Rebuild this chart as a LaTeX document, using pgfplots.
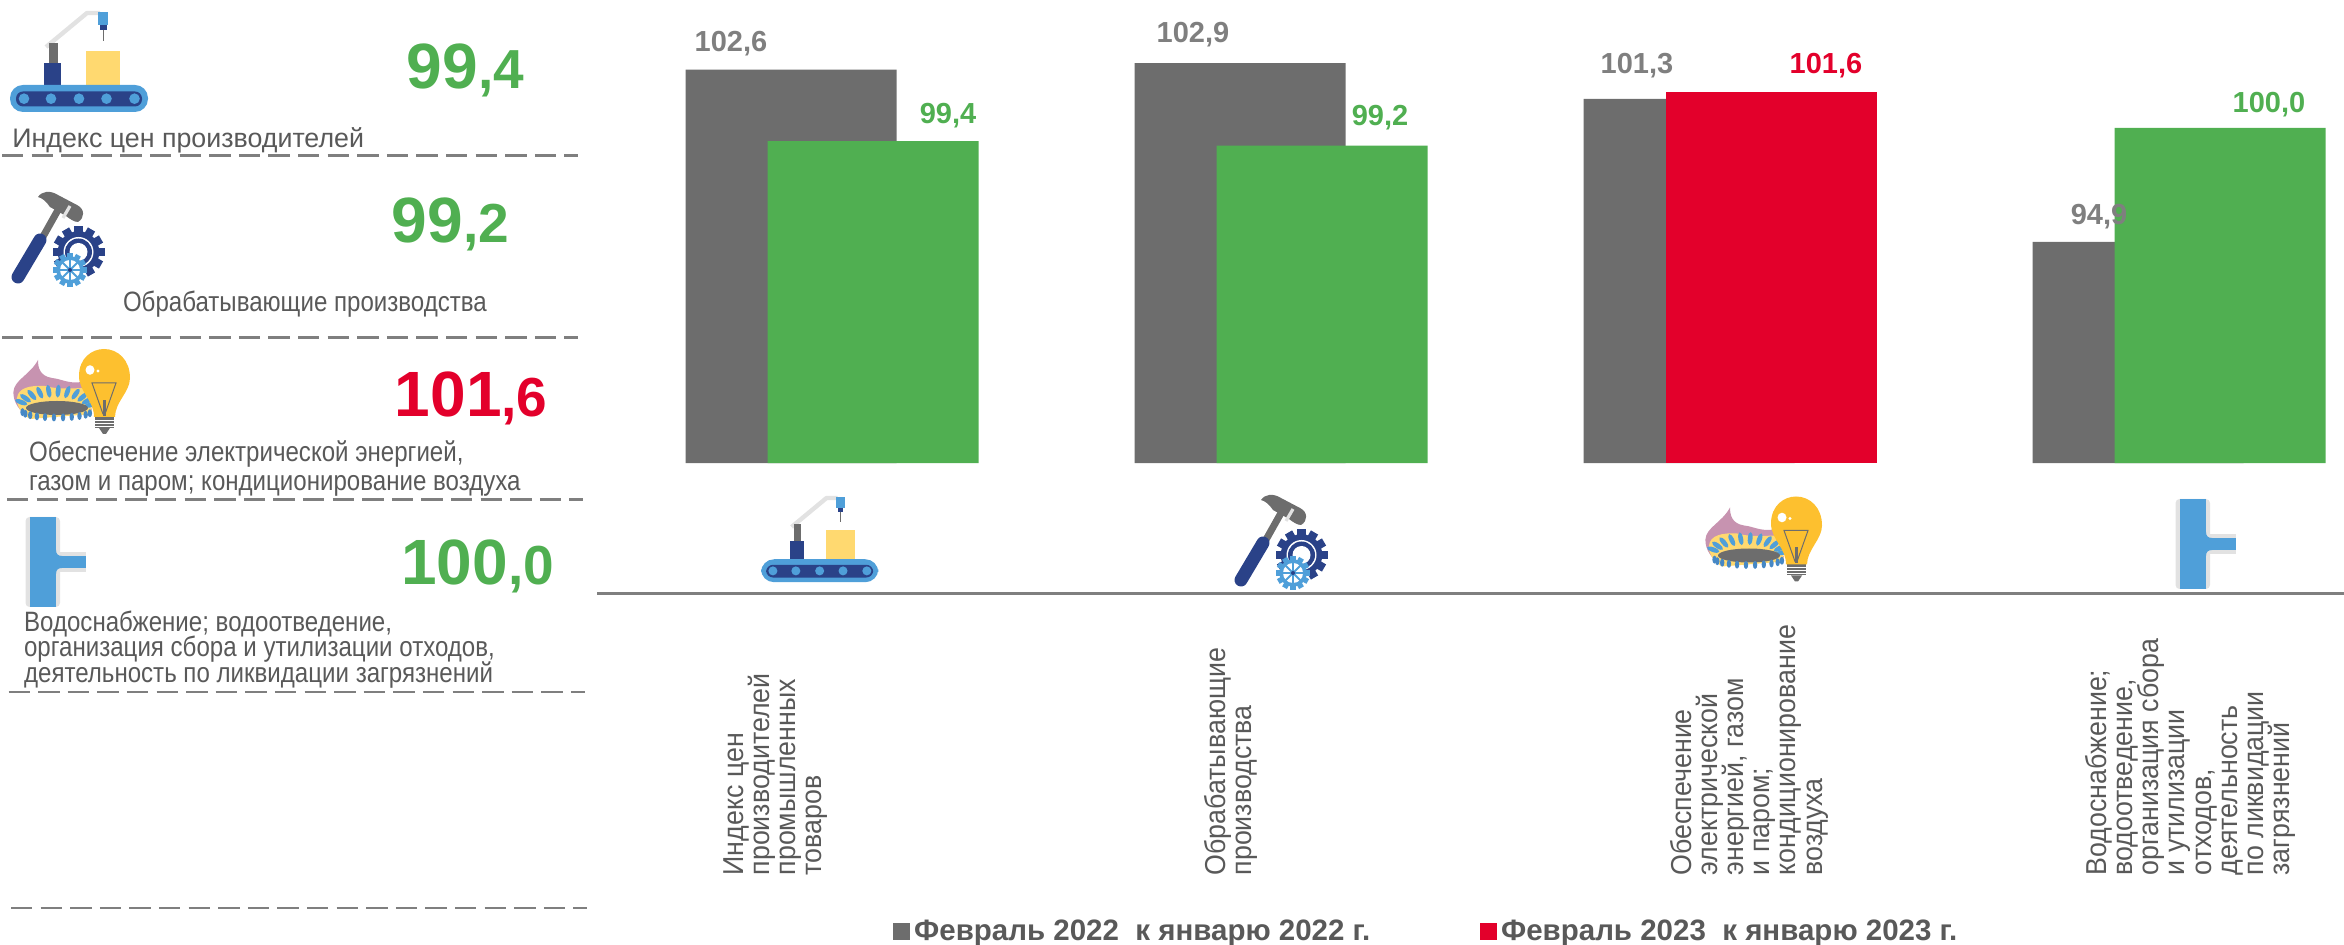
\documentclass[border=0pt]{standalone}
\usepackage{fontspec}
\usepackage{pgfplots}
\usepackage{pgfplotstable}
\pgfplotsset{compat=1.18}
\setmainfont{Liberation Sans}
\newfontfamily\rotfont{Liberation Sans}[FakeStretch=.93]
\newfontfamily\sidefont{Liberation Sans}[FakeStretch=.86]
% keep the tight line pitch of the rotated labels even
\normallineskiplimit=-5pt

\definecolor{cgray}{HTML}{6D6D6D}
\definecolor{cgreen}{HTML}{50AF51}
\definecolor{cred}{HTML}{E3002B}
\definecolor{clabel}{HTML}{7F7F7F}
\definecolor{ctext}{HTML}{595959}
\definecolor{cblue}{HTML}{4F9FD9}
\definecolor{cnavy}{HTML}{2A4288}
\definecolor{cyellow}{HTML}{FFD970}
\definecolor{cbulb}{HTML}{FDC02F}
\definecolor{cpink}{HTML}{C793B0}
\definecolor{clight}{HTML}{E2E2E2}

% x y label, shift of the label from the category centre and bar top (pt)
\pgfplotstableread{
x y label lx ly
0 102.6 102,6 -50.5 13
1 102.9 102,9 -44 14
2 101.3 101,3 -46.5 16.5
3 94.9 94,9 -40 12.5
}\tgray
\pgfplotstableread{
x y label lx ly
0 99.4 99,4 58 13
1 99.2 99,2 49.5 14
3 100.0 100,0 45 11.5
}\tgreen
\pgfplotstableread{
x y label lx ly
2 101.6 101,6 48 13
}\tred

% icons, drawn in pixel coordinates of the left column
\newcommand{\iconbelt}{
  \draw[clight,line width=2.2pt,line join=round] (46,47) -- (87,13) -- (100,13);
  \fill[cgray] (48.7,43) rectangle (57.5,64);
  \fill[cnavy] (44,63) rectangle (61,86);
  \fill[cyellow] (86,51) rectangle (120,86);
  \fill[cblue] (97.7,12) rectangle (108.4,25);
  \fill[cnavy] (100,25) rectangle (106.5,30);
  \draw[cgray,line width=.4pt] (103.3,30) -- (103.3,41);
  \fill[cblue,rounded corners=6.5pt] (10,85) rectangle (148,112);
  \fill[cnavy,rounded corners=3.5pt] (16,91.5) rectangle (142,106.5);
  \foreach \cx in {24,51,79,106.5,134.5} \fill[cblue] (\cx,98.7) circle [radius=5.3];
}
\newcommand{\gear}[4]{% cx cy radius colour
  \foreach \a in {0,30,...,330}
    \fill[#4,shift={(#1,#2)},rotate=\a] (-.16*#3,0) rectangle (.16*#3,#3);
  \fill[#4] (#1,#2) circle [radius=.8*#3];
}
\newcommand{\iconhammer}{
  \draw[cgray,line width=3.5pt] (40,242) -- (58,210);
  \draw[cnavy,line width=6.5pt,line cap=round] (18,277) -- (40,240);
  \fill[cgray] (38,197) .. controls (42,191) and (50,190) .. (58,195)
    -- (77,205) .. controls (85,209) and (85,218) .. (78,222)
    .. controls (74,222) and (70,219) .. (66,216) -- (50,207)
    .. controls (46,201) and (42,198) .. (38,197) -- cycle;
  \draw[clight,line width=1.6pt] (63,218) -- (70,206);
  \gear{78.5}{252}{26}{cnavy}
  \fill[white] (78.5,252) circle [radius=15];
  \fill[cnavy] (78.5,252) circle [radius=13.5];
  \fill[white] (78.5,252) circle [radius=9];
  \gear{70}{270}{17}{cblue}
  \fill[white] (70,270) circle [radius=10];
  \foreach \a in {0,45,135,90} \draw[cblue,line width=.9pt,shift={(70,270)},rotate=\a] (-11,0) -- (11,0);
  \fill[cnavy] (70,270) circle [radius=2];
}
\newcommand{\icongas}{
  \fill[cpink] (13.4,392) .. controls (14,380) and (30,375) .. (38,360)
    .. controls (38,368) and (40,376) .. (52,378)
    .. controls (62,379) and (68,384) .. (82,382)
    -- (92,410) -- (28,416) .. controls (20,412) and (13,402) .. (13.4,392) -- cycle;
  \fill[cyellow] (17,398) .. controls (18,388) and (30,385) .. (45,386)
    .. controls (60,390) and (72,388) .. (88,388) -- (92,414)
    -- (30,419) .. controls (22,414) and (16,406) .. (17,398) -- cycle;
  \foreach \a in {10,25,...,170}
    \fill[cblue,shift={({55+36*cos(\a)},{408-17*sin(\a)})},rotate={\a-90}]
      (0,0) ellipse [x radius=2.4, y radius=6.5];
  \fill[cgray] (57,408) ellipse [x radius=31, y radius=7];
  \foreach \a in {190,205,...,350}
    \fill[cblue!75!cnavy] ({57+35*cos(\a)},{411-6.5*sin(\a)}) ellipse [x radius=2.2, y radius=4];
  \fill[cgray] (95,417) rectangle (114,428);
  \fill[cgray] (99,428) -- (110,428) -- (106,434) -- (103,434) -- cycle;
  \foreach \yy in {420,423,426} \draw[white,line width=.4pt] (95,\yy) -- (114,\yy);
  \fill[cbulb] (94,417) .. controls (94,400) and (79,392) .. (79,376)
    .. controls (79,358) and (92,349) .. (104,349)
    .. controls (118,349) and (130,360) .. (130,378)
    .. controls (130,392) and (115,402) .. (115,417) -- cycle;
  \fill[white] (90,370) ellipse [x radius=4.5, y radius=4.8];
  \fill[white] (98,371) circle [radius=1.6];
  \draw[cgray,line width=.5pt] (92,383) -- (116,383) -- (105,414) -- (103,414) -- cycle;
  \fill[cgray] (102.5,400) rectangle (105.5,416);
}
\newcommand{\iconpipe}{
  \fill[clight,rounded corners=2pt] (25.5,517) rectangle (60,607);
  \fill[clight] (55,552) rectangle (86,572);
  \fill[cblue] (30,517) rectangle (56,607);
  \fill[cblue] (50,556) rectangle (86,568);
  \fill[cblue] (56,550) .. controls (56,554) and (58,556) .. (62,556) -- (56,556) -- cycle;
  \fill[cblue] (56,574) .. controls (56,570) and (58,568) .. (62,568) -- (56,568) -- cycle;
}

\begin{document}
\lineskiplimit=-5pt
\begin{tikzpicture}
\path[use as bounding box] (0,0) rectangle (1172pt,-472.5pt);

\begin{axis}[
    at={(298.5pt,-231.5pt)}, anchor=south west,
    scale only axis, width=873.5pt, height=231.5pt,
    xmin=-0.5234, xmax=3.3675,
    ymin=85, ymax=105.72,
    axis line style={draw=none},
    major tick length=0pt,
    ytick=\empty,
    xtick={-0.1258,0.8876,2.0423,3.0255},
    xticklabels={
      {Индекс цен\\производителей\\промышленных\\товаров},
      {Обрабатывающие\\производства},
      {Обеспечение\\электрической\\энергией, газом\\и паром;\\кондиционирование\\воздуха},
      {Водоснабжение;\\водоотведение,\\организация сбора\\и утилизации\\отходов,\\деятельность\\по ликвидации\\загрязнений}},
    xticklabel style={yshift=-206.35pt, rotate=90, anchor=west, align=left, inner sep=0pt,
      text=ctext, font=\rotfont\fontsize{14.4}{13.1}\selectfont},
    legend columns=2,
    legend style={at={(0.1694,-1.0115)}, anchor=west, draw=none, fill=none,
      inner sep=0pt, font=\bfseries\fontsize{14.75}{16}\selectfont, text=ctext,
      /tikz/every even column/.append style={column sep=53pt}},
    legend image code/.code={\path[#1] (0pt,-4.1pt) rectangle (8.4pt,4.1pt);},
    label bars/.style={
      point meta=explicit symbolic,
      visualization depends on={\thisrow{lx}\as\lx},
      visualization depends on={\thisrow{ly}\as\ly},
      nodes near coords,
      nodes near coords align={center},
      every node near coord/.append style={xshift=\lx pt, yshift=\ly pt, inner sep=0pt,
        font=\bfseries\fontsize{14.5}{16}\selectfont, text=#1},
    },
]
\addplot[ybar, bar width=105.5pt, bar shift=-20.5pt, fill=cgray, draw=none, label bars=clabel]
    table[x=x, y=y, meta=label] {\tgray};
\addlegendentry{Февраль 2022\ \ к январю 2022 г.}
\addplot[ybar, bar width=105.5pt, bar shift=20.5pt, fill=cgreen, draw=none, label bars=cgreen, forget plot]
    table[x=x, y=y, meta=label] {\tgreen};
\addplot[ybar, bar width=105.5pt, bar shift=20.5pt, fill=cred, draw=none, label bars=cred]
    table[x=x, y=y, meta=label] {\tred};
\addlegendentry{Февраль 2023\ \ к январю 2023 г.}
\end{axis}

\begin{scope}[x=.5pt, y=-.5pt]
  % baseline under the chart icons
  \draw[clabel,line width=1.3pt] (597,593.5) -- (2344,593.5);

  % dashed separators of the left column
  \begin{scope}[clabel, line width=1.2pt, dash pattern=on 10.7pt off 4.1pt]
    \draw (2,155.7) -- (578,155.7);
    \draw (2,337.7) -- (578,337.7);
    \draw (7,499.5) -- (583,499.5);
    \draw (8.5,692) -- (585,692);
    \draw (11,907.7) -- (587,907.7);
  \end{scope}

  % left column icons
  \iconbelt
  \iconhammer
  \icongas
  \iconpipe

  % the same icons over the baseline
  \begin{scope}[shift={(752.5,487)}, scale=.85]\iconbelt\end{scope}
  \begin{scope}[shift={(1223,303)}]\iconhammer\end{scope}
  \begin{scope}[shift={(1692,147.5)}]\icongas\end{scope}
  \begin{scope}[shift={(2150,-18)}]\iconpipe\end{scope}

  % big values
  \newcommand{\bigval}[5]{\node[anchor=base west,inner sep=0pt,text=#3,font=\bfseries] at (#1,#2)
    {\fontsize{32}{36}\selectfont #4\fontsize{27.5}{30}\selectfont #5};}
  \bigval{406.5}{89}{cgreen}{99}{,4}
  \bigval{391.5}{243}{cgreen}{99}{,2}
  \bigval{394.5}{417}{cred}{101}{,6}
  \bigval{401}{585}{cgreen}{100}{,0}

  % left column captions
  \node[anchor=base west,inner sep=0pt,text=ctext,font=\fontsize{13.4}{15}\selectfont] at (12,148) {Индекс цен производителей};
  \begin{scope}[every node/.style={anchor=base west,inner sep=0pt,text=ctext,font=\sidefont\fontsize{14}{15}\selectfont}]
    \node at (122.6,312) {Обрабатывающие производства};
    \node at (28.7,462) {Обеспечение электрической энергией,};
    \node at (28.7,490.7) {газом и паром; кондиционирование воздуха};
    \node at (23.7,631.7) {Водоснабжение; водоотведение,};
    \node at (23.7,657) {организация сбора и утилизации отходов,};
    \node at (23.7,682.7) {деятельность по ликвидации загрязнений};
  \end{scope}
\end{scope}
\end{tikzpicture}
\end{document}
